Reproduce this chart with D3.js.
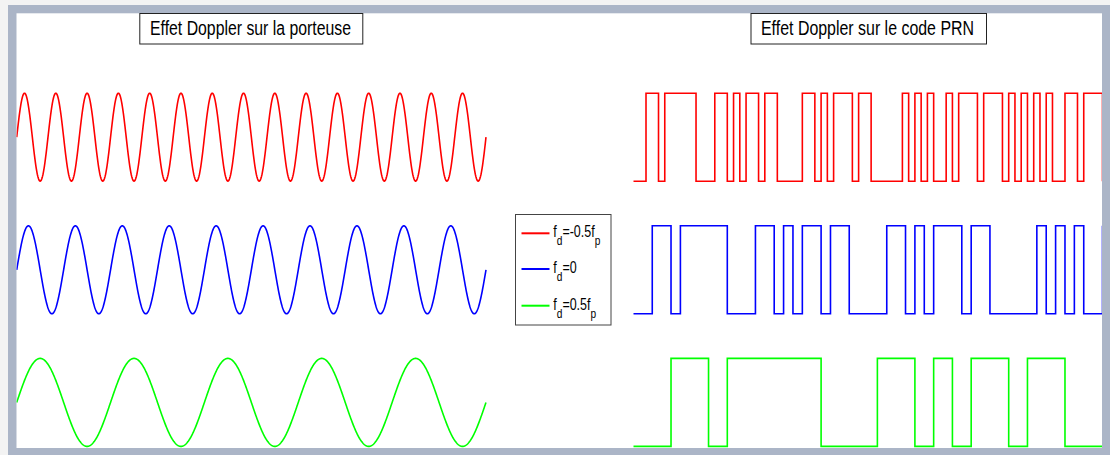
<!DOCTYPE html>
<html>
<head>
<meta charset="utf-8">
<script src="https://cdn.jsdelivr.net/npm/d3@7"></script>
<style>
  html, body { margin: 0; padding: 0; background: #f3f3f3; }
  svg { display: block; }
</style>
</head>
<body>
<svg id="chart" width="1110" height="455"></svg>
<script>
// ---------- data ----------
const panelTitles = ["Effet Doppler sur la porteuse", "Effet Doppler sur le code PRN"];
const seriesKeys = ["neg", "zero", "pos"];
const legendMain = [["f", "d", "=-0.5f", "p"], ["f", "d", "=0", ""], ["f", "d", "=0.5f", "p"]];
// carrier: number of cycles visible in the window for each Doppler case
const carrierCycles = [15, 10, 5];
// code chip-rate factor relative to fd = 0
const chipRate = [1.5, 1, 0.5];
// PRN chip sequence (chips 0..75)
const prnCode = [
  0,0,1,1,0,1,1,1,1,1,
  0,0,0,1,1,0,1,0,1,1,
  0,1,1,0,0,0,0,1,1,0,
  1,0,1,1,1,0,1,1,0,0,
  0,0,0,1,0,1,0,1,0,0,
  1,0,1,1,1,0,1,1,1,0,
  1,0,1,0,1,0,1,0,0,1,
  1,0,1,1,1,0
];
const codeWindow = 50; // chips at fd = 0 shown

// ---------- styles ----------
const colors = {neg: "#ff0000", zero: "#0000ff", pos: "#00ff00"};
const frameColor = "#abb5c7";

const svg = d3.select("#chart");

// frame
svg.append("rect").attr("x", 0).attr("y", 0).attr("width", 1110).attr("height", 455).attr("fill", "#f3f3f3");
svg.append("rect").attr("x", 8).attr("y", 5).attr("width", 1102).attr("height", 450).attr("fill", frameColor);
svg.append("rect").attr("x", 16.5).attr("y", 13.3).attr("width", 1102 - 16.5).attr("height", 448 - 13.3).attr("fill", "#fff");

svg.append("defs").append("clipPath").attr("id", "plotclip")
  .append("rect").attr("x", 16.5).attr("y", 13.3).attr("width", 1102 - 16.5).attr("height", 448 - 13.3);

const plot = svg.append("g").attr("clip-path", "url(#plotclip)");

// scales
const rowY = d3.scalePoint().domain(seriesKeys).range([137.2, 402.4]);
const amp = d3.scaleLinear().domain([-1, 1]).range([44, -44]);
const xCarrier = d3.scaleLinear().domain([0, 1]).range([16.7, 486]);
const xCode = d3.scaleLinear().domain([0, codeWindow]).range([633.5, 1102.5]);

// carriers
const nSamp = 1200;
seriesKeys.forEach((k, i) => {
  const pts = d3.range(nSamp + 1).map(j => {
    const t = j / nSamp;
    return [t, Math.sin(2 * Math.PI * carrierCycles[i] * t)];
  });
  const line = d3.line()
    .x(d => xCarrier(d[0]))
    .y(d => rowY(k) + amp(d[1]));
  plot.append("path").attr("d", line(pts))
    .attr("fill", "none").attr("stroke", colors[k]).attr("stroke-width", 1.6)
    .attr("stroke-linejoin", "round");
});

// PRN code
seriesKeys.forEach((k, i) => {
  const n = Math.round(codeWindow * chipRate[i]);
  const pts = d3.range(n + 1).map(c => [c / chipRate[i], prnCode[c] ? 1 : -1]);
  const line = d3.line()
    .x(d => xCode(d[0]))
    .y(d => rowY(k) + amp(d[1]))
    .curve(d3.curveStepAfter);
  plot.append("path").attr("d", line(pts))
    .attr("fill", "none").attr("stroke", colors[k]).attr("stroke-width", 1.6)
    .attr("stroke-linejoin", "miter");
});

// titles
const titleBoxes = [{x: 139.3, w: 223, tx: 150, tw: 201}, {x: 750.5, w: 235.5, tx: 761, tw: 213}];
panelTitles.forEach((t, i) => {
  const b = titleBoxes[i];
  svg.append("rect").attr("x", b.x + 0.5).attr("y", 13.5).attr("width", b.w).attr("height", 30.5)
    .attr("fill", "#fff").attr("stroke", "#222").attr("stroke-width", 1);
  svg.append("text").attr("x", b.tx).attr("y", 35)
    .attr("font-family", "'Liberation Sans', Arial, sans-serif").attr("font-size", 19.5)
    .attr("textLength", b.tw).attr("lengthAdjust", "spacingAndGlyphs")
    .attr("fill", "#000").text(t);
});

// legend
svg.append("rect").attr("x", 515.5).attr("y", 214.5).attr("width", 95.5).attr("height", 110.5)
  .attr("fill", "#fff").attr("stroke", "#444").attr("stroke-width", 1);
const legY = [233.3, 269, 305.7];
seriesKeys.forEach((k, i) => {
  svg.append("line").attr("x1", 521.5).attr("x2", 549.5).attr("y1", legY[i]).attr("y2", legY[i])
    .attr("stroke", colors[k]).attr("stroke-width", 2);
  const g = svg.append("g").attr("transform", `translate(553.3,${legY[i] + 4}) scale(0.78,1)`);
  const txt = g.append("text").attr("x", 0).attr("y", 0)
    .attr("font-family", "'Liberation Sans', Arial, sans-serif").attr("font-size", 16).attr("fill", "#000");
  const parts = legendMain[i];
  txt.append("tspan").text(parts[0]);
  txt.append("tspan").attr("dy", 8).attr("font-size", 13).text(parts[1]);
  txt.append("tspan").attr("dy", -8).text(parts[2]);
  if (parts[3]) txt.append("tspan").attr("dy", 8).attr("font-size", 13).text(parts[3]);
});
</script>
</body>
</html>
